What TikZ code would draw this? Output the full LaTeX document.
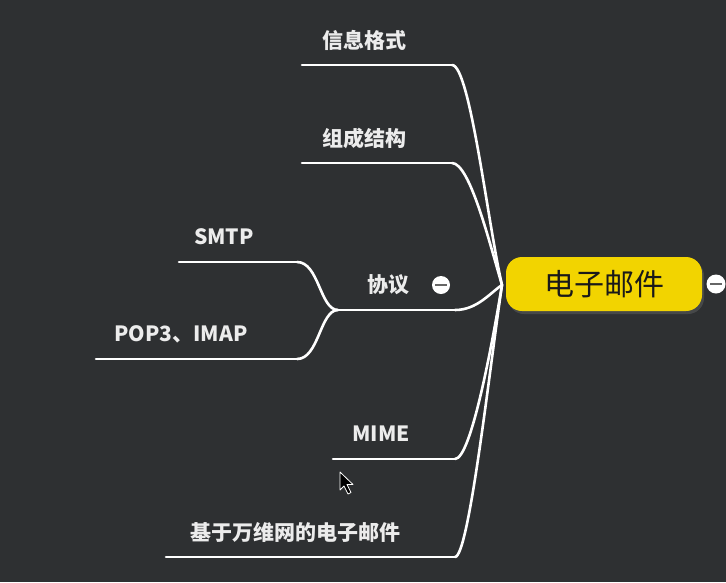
\documentclass[tikz,border=0pt]{standalone}
\usepackage{fontspec}
\setmainfont{Noto Sans CJK SC}
\usetikzlibrary{shadows}

\definecolor{bgdark}{RGB}{46,48,50}
\definecolor{topicyellow}{RGB}{242,212,0}
\definecolor{labelwhite}{RGB}{236,236,236}

\tikzset{
  branchline/.style={line width=2.6pt, white, line cap=round},
  topiclabel/.style={text=labelwhite, inner sep=0pt, font=\bfseries\fontsize{21}{25}\selectfont},
  foldmark/.style={circle, fill=white, minimum size=19pt, inner sep=0pt,
    path picture={\draw[black!60, line width=2pt]
      ([xshift=-6pt]path picture bounding box.center) -- ([xshift=6pt]path picture bounding box.center);}}
}

\begin{document}
\begin{tikzpicture}[x=1pt,y=-1pt]
    			%Background
    			\fill[bgdark] (0,0) rectangle (726,582);

    			%Central topic
    			\node[fill=topicyellow, rounded corners=16pt, minimum width=196pt, minimum height=54pt,
    			      drop shadow={shadow xshift=2pt, shadow yshift=-3pt, opacity=0.3},
    			      text=black!90, font=\fontsize{30}{35}\selectfont] (email) at (604,284) {电子邮件};
    			\node[foldmark] (emailfold) at (716,284) {};
    			\coordinate (hub) at (502,285);

    			%Labels and underlines
    			\foreach \n/\t/\xl/\xr/\y/\tx in {info/信息格式/302/452/65/364, struct/组成结构/302/452/163/364,
    			    proto/协议/338/455/310/388, mime/MIME/333/455/459/381, web/基于万维网的电子邮件/166/455/557/295,
    			    smtp/SMTP/179/297/262/224, pop/POP3、IMAP/96/297/359/181}
    			{
    			  \node[topiclabel] (\n) at (\tx,\y-25) {\t};
    			  \coordinate (\n-l) at (\xl,\y);
    			  \coordinate (\n-r) at (\xr,\y);
    			  \draw[branchline] (\n-l) -- (\n-r);
    			}
    			\node[foldmark, minimum size=18pt] (protofold) at (441,285) {};

    			%Curves to the centre
    			\draw[branchline] (info-r) .. controls +(18,0) and +(-14,-60) .. (hub);
    			\draw[branchline] (struct-r) .. controls +(18,0) and +(-12,-40) .. (hub);
    			\draw[branchline] (proto-r) .. controls +(22,0) and +(-12,8) .. (hub);
    			\draw[branchline] (mime-r) .. controls +(16,0) and +(-10,60) .. (hub);
    			\draw[branchline] (web-r) .. controls +(14,0) and +(-12,80) .. (hub);
    			\draw[branchline] (smtp-r) .. controls +(22,0) and +(-18,0) .. (proto-l);
    			\draw[branchline] (pop-r) .. controls +(22,0) and +(-18,0) .. (proto-l);

    			%Mouse pointer
    			\filldraw[fill=black, draw=white!75, line width=0.8pt, line join=round]
    			  (340,472) -- ++(0,18) -- ++(4,-4) -- ++(4,8) -- ++(3,-1.5) -- ++(-4,-8) -- ++(6,0) -- cycle;
  		\end{tikzpicture}
\end{document}
